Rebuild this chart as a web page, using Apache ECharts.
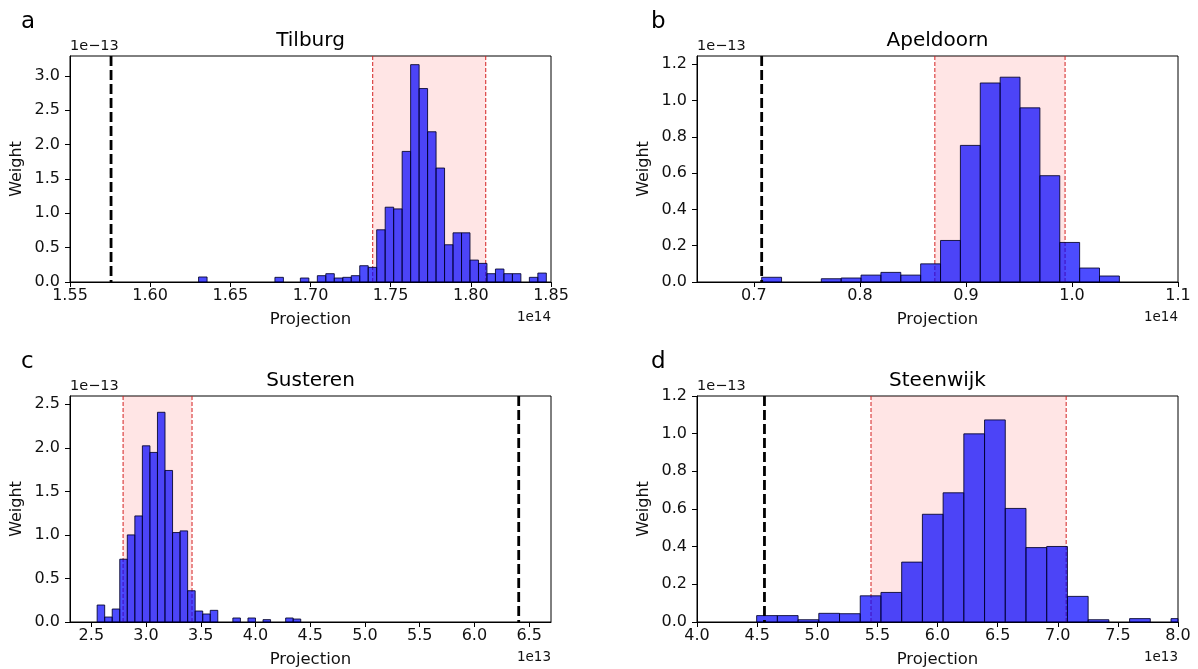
<!DOCTYPE html>
<html><head><meta charset="utf-8">
<script src="https://cdn.jsdelivr.net/npm/echarts@6/dist/echarts.min.js"></script>
<style>html,body{margin:0;padding:0;background:#fff}#chart{width:1198px;height:669px}</style>
</head><body><div id="chart"></div>
<script>
// ---------- DATA ----------
const panelTitles = ['Tilburg', 'Apeldoorn', 'Susteren', 'Steenwijk'];
const panelLetters = ['a', 'b', 'c', 'd'];

// a: Tilburg (x in 1e14, y in 1e-13)
const tilburgBinStart = 1.6302, tilburgBinWidth = 0.00529;
const tilburgWeights = [0.073, 0, 0, 0, 0, 0, 0, 0, 0, 0.068, 0, 0, 0.058, 0, 0.092, 0.121, 0.058, 0.068, 0.092, 0.237, 0.213, 0.76, 1.089, 1.064, 1.901, 3.164, 2.816, 2.187, 1.659, 0.542, 0.716, 0.716, 0.319, 0.271, 0.121, 0.189, 0.121, 0.121, 0, 0.068, 0.13];
const tilburgInterval = [1.7388, 1.8093];
const tilburgActual = 1.5756;
const tilburgXTicks = [1.55, 1.60, 1.65, 1.70, 1.75, 1.80, 1.85];
const tilburgYTicks = [0, 0.5, 1.0, 1.5, 2.0, 2.5, 3.0];

// b: Apeldoorn (x in 1e14)
const apeldoornBinStart = 0.7074, apeldoornBinWidth = 0.01874;
const apeldoornWeights = [0.026, 0, 0, 0.018, 0.022, 0.038, 0.053, 0.038, 0.10, 0.229, 0.753, 1.097, 1.129, 0.960, 0.586, 0.218, 0.077, 0.033];
const apeldoornInterval = [0.8707, 0.9935];
const apeldoornActual = 0.7074;
const apeldoornXTicks = [0.7, 0.8, 0.9, 1.0, 1.1];
const apeldoornYTicks = [0, 0.2, 0.4, 0.6, 0.8, 1.0, 1.2];

// c: Susteren (x in 1e13)
const susterenBinStart = 2.553, susterenBinWidth = 0.0689;
const susterenWeights = [0.195, 0.057, 0.149, 0.721, 1.0, 1.218, 2.023, 1.947, 2.408, 1.740, 1.027, 1.046, 0.359, 0.126, 0.092, 0.134, 0, 0, 0.046, 0, 0.046, 0, 0.027, 0, 0, 0.046, 0.034];
const susterenInterval = [2.79, 3.42];
const susterenActual = 6.405;
const susterenXTicks = [2.5, 3.0, 3.5, 4.0, 4.5, 5.0, 5.5, 6.0, 6.5];
const susterenYTicks = [0, 0.5, 1.0, 1.5, 2.0, 2.5];

// d: Steenwijk (x in 1e13)
const steenwijkBinStart = 4.496, steenwijkBinWidth = 0.1723;
const steenwijkWeights = [0.034, 0.034, 0.012, 0.046, 0.044, 0.139, 0.157, 0.318, 0.572, 0.686, 0.999, 1.073, 0.603, 0.395, 0.401, 0.136, 0.012, 0, 0.018, 0, 0.018];
const steenwijkInterval = [5.447, 7.070];
const steenwijkActual = 4.561;
const steenwijkXTicks = [4.0, 4.5, 5.0, 5.5, 6.0, 6.5, 7.0, 7.5, 8.0];
const steenwijkYTicks = [0, 0.2, 0.4, 0.6, 0.8, 1.0, 1.2];

const xOffsetTexts = ['1e14', '1e14', '1e13', '1e13'];
const yOffsetText = '1e\u221213';

// ---------- LAYOUT ----------
const FONT = "'DejaVu Sans', sans-serif";
const panels = [
  {start: tilburgBinStart, width: tilburgBinWidth, w: tilburgWeights, band: tilburgInterval, actual: tilburgActual,
   xt: tilburgXTicks, yt: tilburgYTicks, xmin: 1.55, xmax: 1.85, ymax: 3.29, xdec: 2,
   grid: {left: 70, top: 56, width: 481, height: 226}},
  {start: apeldoornBinStart, width: apeldoornBinWidth, w: apeldoornWeights, band: apeldoornInterval, actual: apeldoornActual,
   xt: apeldoornXTicks, yt: apeldoornYTicks, xmin: 0.6464, xmax: 1.1, ymax: 1.2458, xdec: 1,
   grid: {left: 697, top: 56, width: 481, height: 226}},
  {start: susterenBinStart, width: susterenBinWidth, w: susterenWeights, band: susterenInterval, actual: susterenActual,
   xt: susterenXTicks, yt: susterenYTicks, xmin: 2.305, xmax: 6.70, ymax: 2.595, xdec: 1,
   grid: {left: 70, top: 396, width: 481, height: 226}},
  {start: steenwijkBinStart, width: steenwijkBinWidth, w: steenwijkWeights, band: steenwijkInterval, actual: steenwijkActual,
   xt: steenwijkXTicks, yt: steenwijkYTicks, xmin: 4.0, xmax: 8.0, ymax: 1.2, xdec: 1,
   grid: {left: 697, top: 396, width: 481, height: 226}}
];

function barRender(params, api) {
  const x0 = api.value(0), x1 = api.value(1), h = api.value(2);
  if (!(h > 0)) return;
  const p0 = api.coord([x0, h]);
  const p1 = api.coord([x1, 0]);
  const cs = params.coordSys;
  const r = echarts.graphic.clipRectByRect(
    {x: p0[0], y: p0[1], width: p1[0] - p0[0], height: p1[1] - p0[1]},
    {x: cs.x, y: cs.y, width: cs.width, height: cs.height});
  if (!r) return;
  return {type: 'rect', shape: r,
    style: {fill: 'rgba(0,0,255,0.7)', stroke: 'rgba(0,0,40,0.85)', lineWidth: 1}};
}
function bandRender(params, api) {
  const cs = params.coordSys;
  const a = api.coord([api.value(0), 0])[0];
  const b = api.coord([api.value(1), 0])[0];
  return {type: 'rect', shape: {x: a, y: cs.y, width: b - a, height: cs.height},
    style: {fill: 'rgba(255,0,0,0.1)'}};
}
function makeLineRender(color, width, dash) {
  return function (params, api) {
    const cs = params.coordSys;
    const x = api.coord([api.value(0), 0])[0];
    return {type: 'line', shape: {x1: x, y1: cs.y, x2: x, y2: cs.y + cs.height},
      style: {stroke: color, lineWidth: width, lineDash: dash}};
  };
}

const grids = [], xAxes = [], yAxes = [], series = [], graphics = [];
panels.forEach((p, i) => {
  grids.push(Object.assign({show: true, borderColor: '#000', borderWidth: 1, containLabel: false}, p.grid));
  xAxes.push({type: 'value', gridIndex: i, min: p.xmin, max: p.xmax,
    axisLine: {show: true, onZero: false, lineStyle: {color: '#000', width: 1}},
    axisTick: {show: true, length: 5, customValues: p.xt, lineStyle: {color: '#000', width: 1}},
    axisLabel: {customValues: p.xt, formatter: v => v.toFixed(p.xdec), color: '#111',
      fontSize: 16, fontFamily: FONT, margin: 6, showMinLabel: true, showMaxLabel: true},
    splitLine: {show: false}});
  yAxes.push({type: 'value', gridIndex: i, min: 0, max: p.ymax,
    axisLine: {show: true, onZero: false, lineStyle: {color: '#000', width: 1}},
    axisTick: {show: true, length: 5, customValues: p.yt, lineStyle: {color: '#000', width: 1}},
    axisLabel: {customValues: p.yt, formatter: v => v.toFixed(1), color: '#111',
      fontSize: 16, fontFamily: FONT, margin: 10, showMinLabel: true, showMaxLabel: true},
    splitLine: {show: false}});

  const bars = p.w.map((h, k) => [p.start + k * p.width, p.start + (k + 1) * p.width, h]);
  series.push({type: 'custom', xAxisIndex: i, yAxisIndex: i, z: 1, silent: true,
    renderItem: bandRender, data: [[p.band[0], p.band[1]]], encode: {x: [0, 1]}});
  series.push({type: 'custom', xAxisIndex: i, yAxisIndex: i, z: 2, silent: true,
    renderItem: makeLineRender('#d42020', 1, [4, 2]), data: [[p.band[0]], [p.band[1]]], encode: {x: 0}});
  series.push({type: 'custom', xAxisIndex: i, yAxisIndex: i, z: 3, silent: true,
    renderItem: barRender, data: bars, encode: {x: [0, 1], y: 2}});
  series.push({type: 'custom', xAxisIndex: i, yAxisIndex: i, z: 4, silent: true,
    renderItem: makeLineRender('#000', 2.8, [10, 4]), data: [[p.actual]], encode: {x: 0}});

  const g = p.grid;
  const cx = g.left + g.width / 2;
  const top = g.top;
  const bottom = g.top + g.height;
  graphics.push({type: 'text', x: g.left === 70 ? 21 : 651, y: top - 34, style: {
    text: panelLetters[i], fontSize: 23, fontFamily: FONT, fill: '#000',
    align: 'left', verticalAlign: 'middle', textAlign: 'left', textVerticalAlign: 'middle'}});
  graphics.push({type: 'text', x: cx, y: top - 15, style: {
    text: panelTitles[i], fontSize: 20, fontFamily: FONT, fill: '#000',
    align: 'center', verticalAlign: 'middle', textAlign: 'center', textVerticalAlign: 'middle'}});
  graphics.push({type: 'text', x: g.left, y: top - 9.5, style: {
    text: yOffsetText, fontSize: 14.5, fontFamily: FONT, fill: '#111',
    align: 'left', verticalAlign: 'middle', textAlign: 'left', textVerticalAlign: 'middle'}});
  graphics.push({type: 'text', x: g.left + g.width, y: bottom + 35, style: {
    text: xOffsetTexts[i], fontSize: 13.5, fontFamily: FONT, fill: '#111',
    align: 'right', verticalAlign: 'middle', textAlign: 'right', textVerticalAlign: 'middle'}});
  graphics.push({type: 'text', x: cx, y: bottom + 37.5, style: {
    text: 'Projection', fontSize: 16.5, fontFamily: FONT, fill: '#111',
    align: 'center', verticalAlign: 'middle', textAlign: 'center', textVerticalAlign: 'middle'}});
  graphics.push({type: 'text', x: g.left - 53, y: top + g.height / 2, rotation: Math.PI / 2, style: {
    text: 'Weight', fontSize: 16, fontFamily: FONT, fill: '#111',
    align: 'center', verticalAlign: 'middle', textAlign: 'center', textVerticalAlign: 'middle'}});
});

const chart = echarts.init(document.getElementById('chart'), null, {renderer: 'canvas'});
chart.setOption({
  backgroundColor: '#fff',
  animation: false,
  grid: grids, xAxis: xAxes, yAxis: yAxes, series: series, graphic: graphics
});
</script></body></html>
